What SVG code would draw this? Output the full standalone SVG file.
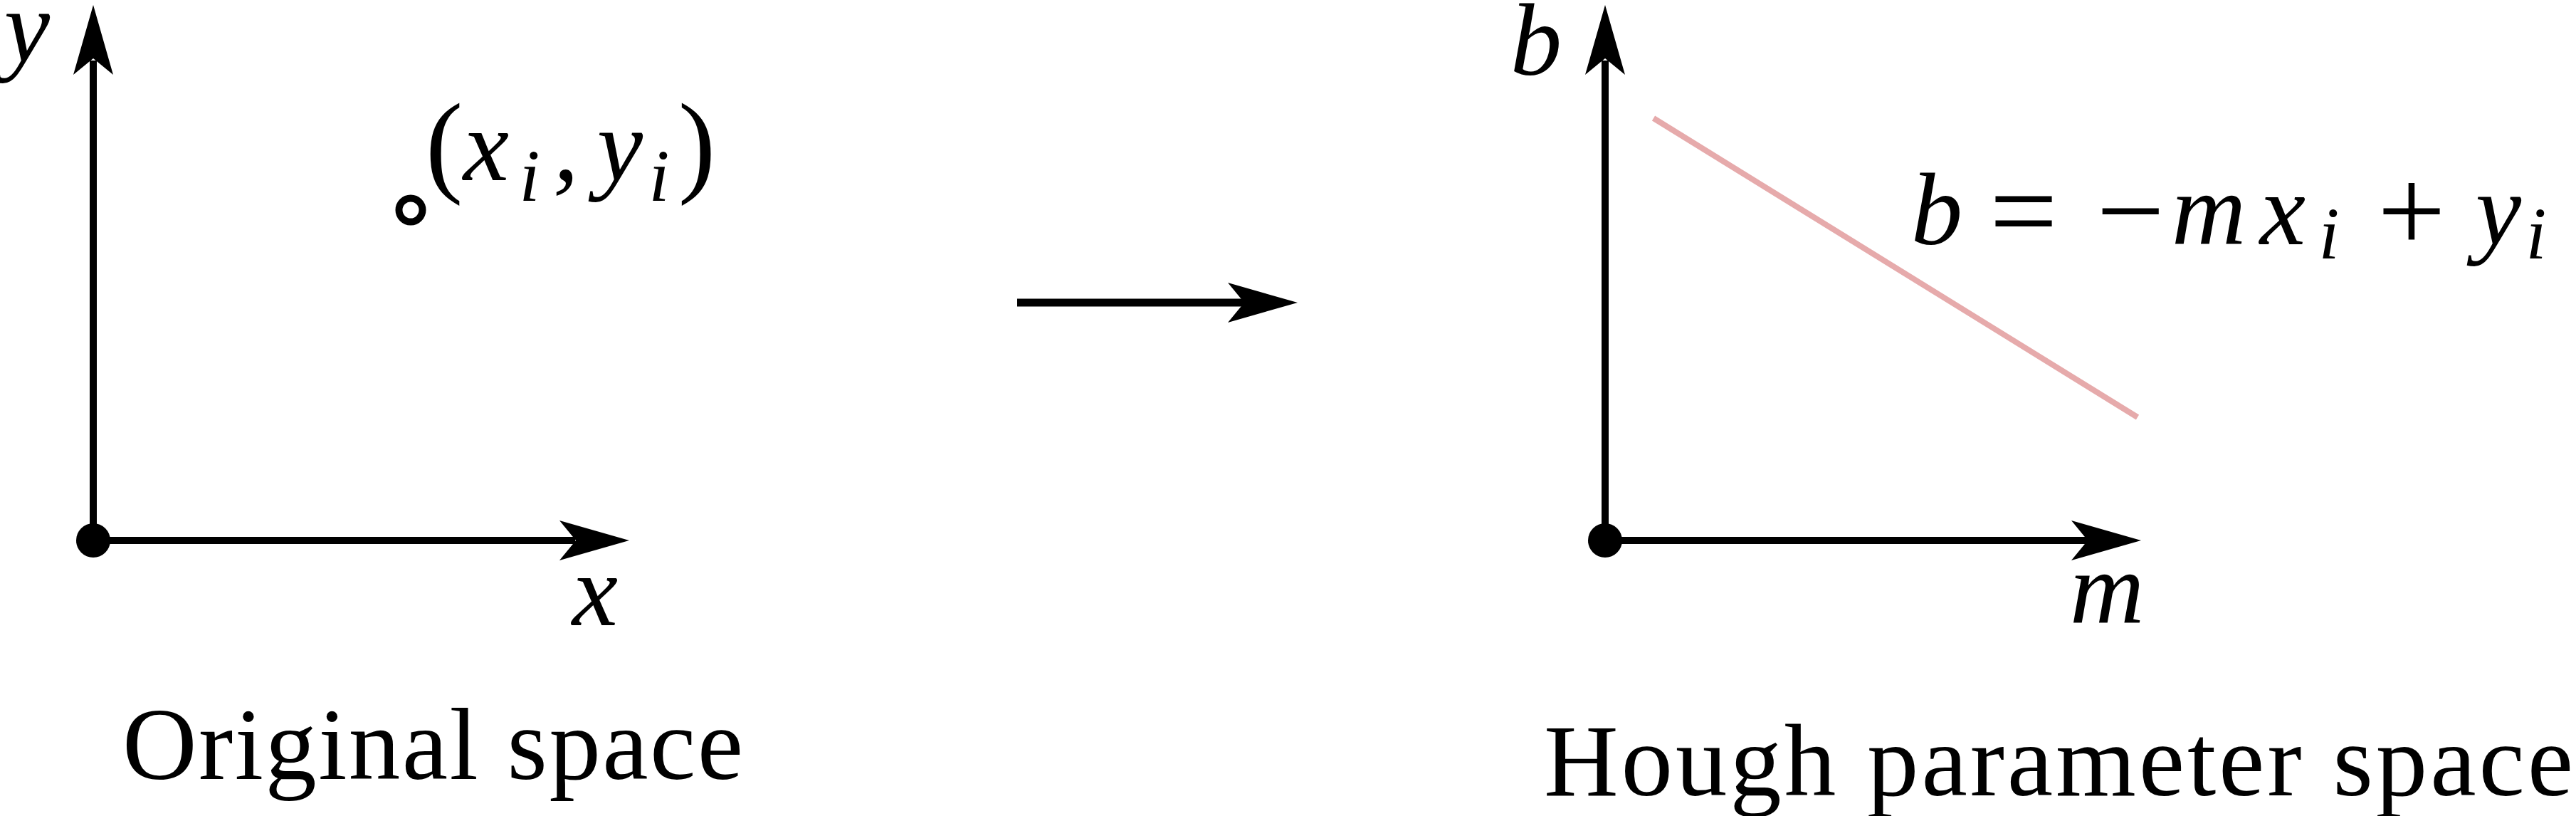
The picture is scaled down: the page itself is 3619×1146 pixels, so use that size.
<svg xmlns="http://www.w3.org/2000/svg" xmlns:xlink="http://www.w3.org/1999/xlink" width="3619" height="1146" viewBox="0 0 3619 1146">
<style>
.ax{stroke:#000;stroke-width:10;fill:none}
.head{fill:#000}
.dot{fill:#000}
.mi{font-family:"Liberation Serif","DejaVu Serif",serif;font-style:italic;font-size:145px;fill:#000;text-anchor:middle}
.sub{font-family:"Liberation Serif","DejaVu Serif",serif;font-style:italic;font-size:104px;fill:#000;text-anchor:middle}
.op{font-family:"Liberation Serif","DejaVu Serif",serif;font-size:170px;fill:#000;text-anchor:middle}
.par{font-family:"Liberation Serif","DejaVu Serif",serif;font-size:158px;fill:#000;text-anchor:middle}
.cap{font-family:"Liberation Serif","DejaVu Serif",serif;font-size:145px;fill:#000}
</style>
<defs>
<path id="head" d="M0,0 L-98,-28 L-75,0 L-98,28 Z"/>
</defs>
<rect width="3619" height="1146" fill="#fff"/>

<g id="original-space">
  <line class="ax" x1="131" y1="759" x2="131" y2="85"/>
  <line class="ax" x1="131" y1="759" x2="808" y2="759"/>
  <use xlink:href="#head" class="head" transform="translate(131,7) rotate(-90)"/>
  <use xlink:href="#head" class="head" transform="translate(884,759)"/>
  <circle class="dot" cx="131" cy="759" r="24"/>
  <text class="mi" x="38" y="86">y</text>
  <text class="mi" x="836" y="878">x</text>
  <circle cx="577" cy="295" r="16.5" fill="none" stroke="#000" stroke-width="10"/>
  <text class="par" x="624" y="255">(</text>
  <text class="mi" x="683" y="253">x</text>
  <text class="sub" x="744" y="282">i</text>
  <text class="mi" x="795" y="253">,</text>
  <text class="mi" x="871" y="253">y</text>
  <text class="sub" x="926" y="282">i</text>
  <text class="par" x="979" y="255">)</text>
  <text class="cap" x="172" y="1094" textLength="872" lengthAdjust="spacing">Original space</text>
</g>

<g id="hough-space">
  <line class="ax" x1="2255" y1="759" x2="2255" y2="85"/>
  <line class="ax" x1="2255" y1="759" x2="2934" y2="759"/>
  <use xlink:href="#head" class="head" transform="translate(2255,7) rotate(-90)"/>
  <use xlink:href="#head" class="head" transform="translate(3008,759)"/>
  <circle class="dot" cx="2255" cy="759" r="24"/>
  <text class="mi" x="2158" y="105">b</text>
  <text class="mi" x="2960" y="875">m</text>
  <line x1="2323" y1="166" x2="3003" y2="586" stroke="#e6aaab" stroke-width="8"/>
  <text class="mi" x="2721" y="343">b</text>
  <text class="op" x="2843" y="353">=</text>
  <text class="op" x="2993" y="353">−</text>
  <text class="mi" x="3103" y="343">m</text>
  <text class="mi" x="3207" y="343">x</text>
  <text class="sub" x="3272" y="363">i</text>
  <text class="op" x="3388" y="353">+</text>
  <text class="mi" x="3510" y="343">y</text>
  <text class="sub" x="3563" y="363">i</text>
  <text class="cap" x="2169" y="1117" textLength="1446" lengthAdjust="spacing">Hough parameter space</text>
</g>

<g id="connectors">
  <line x1="1429" y1="425" x2="1750" y2="425" stroke="#000" stroke-width="11"/>
  <use xlink:href="#head" class="head" transform="translate(1823,425)"/>
</g>
</svg>
